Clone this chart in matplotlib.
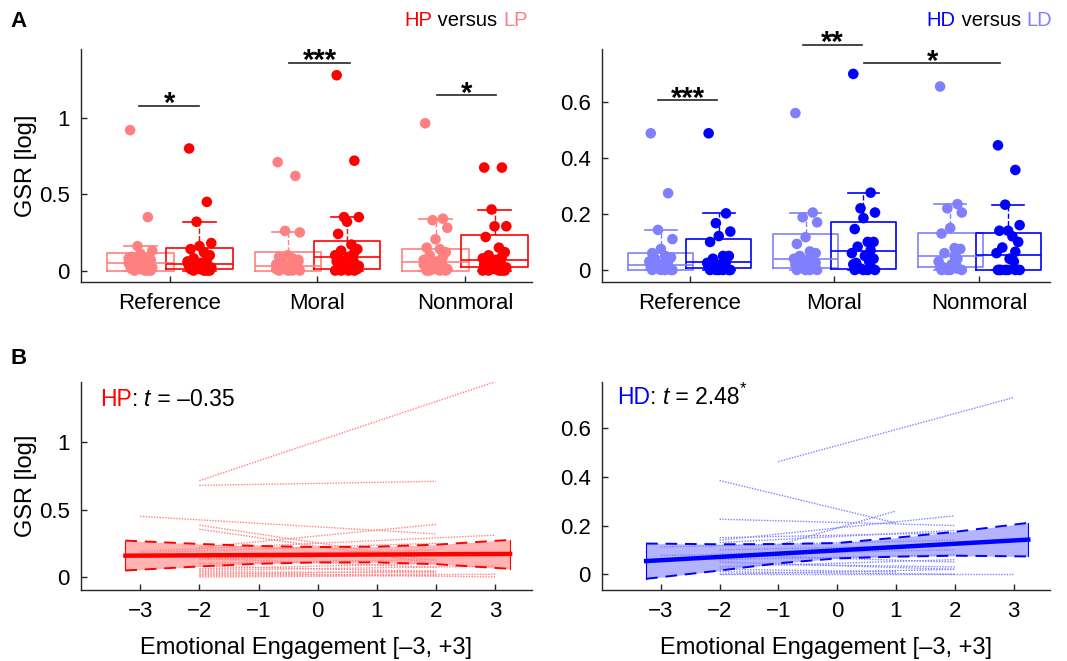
import numpy as np
import matplotlib.pyplot as plt

plt.rcParams['font.family'] = ['Liberation Sans', 'DejaVu Sans']

RED, LRED = '#ff0000', '#ff8080'
BLUE, LBLUE = '#0000ff', '#8080ff'
AXC = '#262626'

conditions = ['Reference', 'Moral', 'Nonmoral']

# box stats per condition: [lower whisker, q1, median, q3, upper whisker]
lp_stats = [[0, 0, 0.05, 0.116, 0.164], [0, 0, 0.03, 0.12, 0.255], [0, 0, 0.057, 0.138, 0.34]]
hp_stats = [[0, 0.007, 0.04, 0.145, 0.32], [0, 0.01, 0.09, 0.195, 0.353], [0, 0.026, 0.072, 0.23, 0.40]]
ld_stats = [[0, 0, 0.018, 0.062, 0.143], [0, 0.006, 0.038, 0.127, 0.205], [0, 0.012, 0.048, 0.131, 0.235]]
hd_stats = [[0, 0.006, 0.027, 0.11, 0.202], [0, 0.005, 0.067, 0.17, 0.276], [0, 0.0, 0.054, 0.133, 0.233]]

# individual GSR values per condition
lp_ref = [0.92, 0.35, 0.16, 0.13, 0.11, 0.09, 0.08, 0.07, 0.06, 0.06, 0.05, 0.05, 0.04, 0.04, 0.03,
          0.03, 0.02, 0.02, 0.01, 0.01, 0.0, 0.0, 0.0, 0.0, 0.08, 0.05]
hp_ref = [0.80, 0.45, 0.32, 0.18, 0.16, 0.14, 0.12, 0.10, 0.08, 0.07, 0.06, 0.05, 0.04, 0.04, 0.03,
          0.03, 0.02, 0.02, 0.01, 0.01, 0.0, 0.0, 0.0, 0.0, 0.05, 0.03]
lp_mor = [0.71, 0.62, 0.26, 0.25, 0.10, 0.09, 0.08, 0.06, 0.05, 0.04, 0.04, 0.03, 0.03, 0.02, 0.02,
          0.01, 0.01, 0.0, 0.0, 0.0, 0.0, 0.07, 0.05, 0.02, 0.01]
hp_mor = [1.28, 0.72, 0.35, 0.35, 0.32, 0.24, 0.17, 0.14, 0.13, 0.12, 0.10, 0.09, 0.08, 0.07, 0.06,
          0.05, 0.04, 0.03, 0.02, 0.02, 0.01, 0.01, 0.0, 0.0, 0.0, 0.0]
lp_non = [0.965, 0.34, 0.33, 0.28, 0.205, 0.15, 0.14, 0.12, 0.10, 0.09, 0.07, 0.06, 0.05, 0.04, 0.03,
          0.03, 0.02, 0.01, 0.01, 0.0, 0.0, 0.0, 0.0, 0.02, 0.04]
hp_non = [0.675, 0.675, 0.40, 0.29, 0.29, 0.22, 0.15, 0.12, 0.10, 0.09, 0.08, 0.07, 0.06, 0.05, 0.04,
          0.03, 0.03, 0.02, 0.01, 0.01, 0.0, 0.0, 0.0, 0.0, 0.0]

ld_ref = [0.488, 0.274, 0.143, 0.11, 0.075, 0.06, 0.05, 0.045, 0.04, 0.03, 0.03, 0.02, 0.02, 0.015,
          0.01, 0.01, 0.005, 0.0, 0.0, 0.0, 0.0, 0.0, 0.025, 0.035]
hd_ref = [0.488, 0.202, 0.167, 0.137, 0.121, 0.10, 0.05, 0.05, 0.04, 0.03, 0.025, 0.02, 0.015, 0.01,
          0.01, 0.005, 0.0, 0.0, 0.0, 0.0, 0.0, 0.0, 0.02]
ld_mor = [0.56, 0.205, 0.188, 0.17, 0.117, 0.093, 0.066, 0.06, 0.05, 0.043, 0.04, 0.035, 0.03, 0.02,
          0.02, 0.01, 0.01, 0.0, 0.0, 0.0, 0.0, 0.025, 0.045]
hd_mor = [0.70, 0.276, 0.22, 0.205, 0.185, 0.146, 0.10, 0.10, 0.083, 0.07, 0.06, 0.05, 0.03, 0.025,
          0.02, 0.01, 0.005, 0.0, 0.0, 0.0, 0.0, 0.04]
ld_non = [0.655, 0.235, 0.22, 0.205, 0.15, 0.13, 0.078, 0.075, 0.06, 0.04, 0.03, 0.02, 0.02, 0.01,
          0.01, 0.005, 0.0, 0.0, 0.0, 0.0, 0.05]
hd_non = [0.445, 0.357, 0.233, 0.16, 0.14, 0.14, 0.12, 0.10, 0.08, 0.065, 0.06, 0.04, 0.03, 0.0, 0.0,
          0.0, 0.0, 0.0, 0.0, 0.0]

# bottom panels: per-participant lines (x0, x1, y0, y1)
hp_lines = [(-2, 3, 0.715, 1.45), (-2, 2, 0.68, 0.71), (-3, 2, 0.45, 0.32), (-2, 2, 0.385, 0.12),
            (-2, 2, 0.355, 0.10), (-2, 2, 0.22, 0.39), (-3, 3, 0.19, 0.31), (-3, 2, 0.18, 0.25),
            (-2, 2, 0.16, 0.20), (-2, 2, 0.13, 0.17), (-2, 2, 0.10, 0.13), (-2, 2, 0.14, 0.07),
            (-2, 2, 0.06, 0.10), (-2, 3, 0.05, 0.08), (-2, 2, 0.04, 0.03), (-2, 2, 0.02, 0.045),
            (-2, 3, 0.01, 0.02), (-2, 2, 0.0, 0.01), (-2, 3, 0.03, 0.0), (-2, 2, 0.08, 0.04)]
hd_lines = [(-1, 3, 0.463, 0.726), (-2, 1, 0.385, 0.21), (-1, 1, 0.12, 0.26), (-2, 2, 0.226, 0.20),
            (-2, 2, 0.14, 0.24), (-2, 2, 0.13, 0.18), (-2, 2, 0.15, 0.17), (-3, 2, 0.112, 0.14),
            (-3, 2, 0.077, 0.10), (-2, 2, 0.10, 0.12), (-2, 2, 0.08, 0.05), (-2, 2, 0.06, 0.08),
            (-2, 2, 0.05, 0.02), (-2, 2, 0.03, 0.06), (-2, 1, 0.02, 0.01), (-2, 2, 0.0, 0.02),
            (-2, 3, 0.0, 0.0), (-2, 2, 0.01, 0.0), (-1, 2, 0.04, 0.03)]

# group fits and confidence bands
fit_x = [-3.25, 3.25]
hp_fit = [0.158, 0.171]
hd_fit = [0.054, 0.142]
ci_x = [-3.25, -2, -1, 0, 1, 2, 3.25]
hp_ci_hi = [0.27, 0.245, 0.23, 0.222, 0.225, 0.24, 0.275]
hp_ci_lo = [0.048, 0.078, 0.098, 0.108, 0.108, 0.095, 0.060]
hd_ci_hi = [0.126, 0.123, 0.124, 0.128, 0.15, 0.174, 0.211]
hd_ci_lo = [-0.019, 0.015, 0.045, 0.065, 0.072, 0.076, 0.073]

JITTER = [-0.07, 0.05, -0.02, 0.08, 0.0, -0.06, 0.03, 0.07, -0.04, 0.05, -0.08, 0.01, 0.04, -0.05]
FS_TICK, FS_LAB = 16, 17


def style(ax):
    for s in ['top', 'right']:
        ax.spines[s].set_visible(False)
    for s in ['left', 'bottom']:
        ax.spines[s].set_color(AXC)
        ax.spines[s].set_linewidth(1.0)
    ax.tick_params(direction='in', length=4, width=1, color=AXC, labelsize=FS_TICK, pad=8)


def boxes(ax, stats, pos, color):
    bs = [dict(whislo=s[0], q1=s[1], med=s[2], q3=s[3], whishi=s[4], fliers=[]) for s in stats]
    ax.bxp(bs, positions=pos, widths=0.45, capwidths=0.22, showfliers=False, manage_ticks=False,
           boxprops=dict(color=color, lw=1.2), medianprops=dict(color=color, lw=1.2),
           whiskerprops=dict(color=color, lw=1.0, ls='--'), capprops=dict(color=color, lw=1.2),
           zorder=3)


def dots(ax, vals, x, color):
    xs = [x + JITTER[i % len(JITTER)] for i in range(len(vals))]
    ax.scatter(xs, vals, s=58, color=color, edgecolors='none', zorder=2)


def sig(ax, x0, x1, y, txt):
    ax.plot([x0, x1], [y, y], color=AXC, lw=1.2, clip_on=False)
    ax.annotate(txt, xy=((x0 + x1) / 2, y), xytext=(0, -9), textcoords='offset points',
                ha='center', va='bottom', fontsize=21, fontweight='bold', annotation_clip=False)


def chain(ax, x, y, parts, fs):
    # parts: (text, color, fontstyle); draws left to right
    t = ax.text(x, y, parts[0][0], color=parts[0][1], fontstyle=parts[0][2], fontsize=fs,
                transform=ax.transAxes, va='bottom', ha='left')
    for txt, c, st in parts[1:]:
        t = ax.annotate(txt, xy=(1, 0), xycoords=t, va='bottom', ha='left', color=c,
                        fontstyle=st, fontsize=fs, annotation_clip=False)
    return t


def chain_right(ax, x, y, parts, fs):
    # right-aligned title built from the last piece backwards, in figure coords
    t = ax.text(x, y, parts[-1][0], color=parts[-1][1], fontsize=fs, va='bottom', ha='right',
                transform=fig.transFigure)
    for txt, c in parts[-2::-1]:
        t = ax.annotate(txt, xy=(0, 0), xycoords=t, va='bottom', ha='right', color=c, fontsize=fs,
                        annotation_clip=False)


fig = plt.figure(figsize=(10.67, 6.61), dpi=100)
axA1 = fig.add_axes([0.0759, 0.5734, 0.4227, 0.3525])
axA2 = fig.add_axes([0.5642, 0.5734, 0.4199, 0.3525])
axB1 = fig.add_axes([0.0759, 0.1074, 0.4227, 0.3147])
axB2 = fig.add_axes([0.5642, 0.1074, 0.4199, 0.3147])

pos = np.arange(1, 4)

# ---- panel A left ----
for x, lo, hi in zip(pos, [lp_ref, lp_mor, lp_non], [hp_ref, hp_mor, hp_non]):
    dots(axA1, lo, x - 0.2, LRED)
    dots(axA1, hi, x + 0.2, RED)
boxes(axA1, lp_stats, pos - 0.2, LRED)
boxes(axA1, hp_stats, pos + 0.2, RED)
axA1.set_xlim(0.397, 3.454)
axA1.set_ylim(-0.075, 1.452)
axA1.set_yticks([0, 0.5, 1])
axA1.set_yticklabels(['0', '0.5', '1'])
axA1.set_xticks(pos)
axA1.set_xticklabels(conditions)
axA1.set_ylabel('GSR [log]', fontsize=FS_LAB)
axA1.yaxis.set_label_coords(-0.098, 0.5)
style(axA1)
sig(axA1, 0.79, 1.2, 1.079, '*')
sig(axA1, 1.81, 2.22, 1.363, '***')
sig(axA1, 2.81, 3.21, 1.15, '*')

# ---- panel A right ----
for x, lo, hi in zip(pos, [ld_ref, ld_mor, ld_non], [hd_ref, hd_mor, hd_non]):
    dots(axA2, lo, x - 0.2, LBLUE)
    dots(axA2, hi, x + 0.2, BLUE)
boxes(axA2, ld_stats, pos - 0.2, LBLUE)
boxes(axA2, hd_stats, pos + 0.2, BLUE)
axA2.set_xlim(0.393, 3.49)
axA2.set_ylim(-0.043, 0.789)
axA2.set_yticks([0, 0.2, 0.4, 0.6])
axA2.set_yticklabels(['0', '0.2', '0.4', '0.6'])
axA2.set_xticks(pos)
axA2.set_xticklabels(conditions)
style(axA2)
sig(axA2, 0.78, 1.19, 0.607, '***')
sig(axA2, 1.78, 2.19, 0.804, '**')
sig(axA2, 2.207, 3.145, 0.738, '*')

# ---- panel B ----
for ax, lines, fit, hi, lo, c, lc, shade, ylim, yt in [
        (axB1, hp_lines, hp_fit, hp_ci_hi, hp_ci_lo, RED, LRED, '#ffb3b3', (-0.097, 1.448), [0, 0.5, 1]),
        (axB2, hd_lines, hd_fit, hd_ci_hi, hd_ci_lo, BLUE, LBLUE, '#b3b3ff', (-0.065, 0.79), [0, 0.2, 0.4, 0.6])]:
    ax.fill_between(ci_x, lo, hi, color=shade, lw=0, zorder=1)
    for x0, x1, y0, y1 in lines:
        ax.plot([x0, x1], [y0, y1], color=lc, lw=1.0, ls=(0, (1, 1)), zorder=2)
    ax.plot(ci_x, hi, color=c, lw=1.4, ls=(0, (6, 4)), zorder=3)
    ax.plot(ci_x, lo, color=c, lw=1.4, ls=(0, (6, 4)), zorder=3)
    ax.plot([ci_x[0]] * 2, [lo[0], hi[0]], color=c, lw=0.8, zorder=3)
    ax.plot([ci_x[-1]] * 2, [lo[-1], hi[-1]], color=c, lw=0.8, zorder=3)
    ax.plot(fit_x, fit, color=c, lw=3.2, zorder=4)
    ax.set_xlim(-4, 3.62)
    ax.set_ylim(*ylim)
    ax.set_xticks(range(-3, 4))
    ax.set_yticks(yt)
    ax.set_yticklabels([f'{v:g}' for v in yt])
    ax.set_xlabel('Emotional Engagement [\u20133, +3]', fontsize=FS_LAB, labelpad=11)
    style(ax)

axB1.set_ylabel('GSR [log]', fontsize=FS_LAB)
axB1.yaxis.set_label_coords(-0.098, 0.5)

chain(axB1, 0.042, 0.86, [('HP', RED, 'normal'), (': ', 'black', 'normal'), ('t', 'black', 'italic'),
                          (' = \u20130.35', 'black', 'normal')], 16.5)
t = chain(axB2, 0.033, 0.87, [('HD', BLUE, 'normal'), (': ', 'black', 'normal'), ('t', 'black', 'italic'),
                              (' = 2.48', 'black', 'normal')], 16.5)
axB2.annotate('*', xy=(1, 0.55), xycoords=t, va='bottom', ha='left', fontsize=12, annotation_clip=False)

# titles and panel letters
chain_right(axA1, 0.4945, 0.955, [('HP', RED), (' versus ', 'black'), ('LP', LRED)], 14.5)
chain_right(axA2, 0.986, 0.955, [('HD', BLUE), (' versus ', 'black'), ('LD', LBLUE)], 14.5)
fig.text(0.017, 0.967, 'A', fontsize=16, fontweight='bold', ha='center', va='center')
fig.text(0.017, 0.457, 'B', fontsize=16, fontweight='bold', ha='center', va='center')

fig.savefig('out.png', dpi=100)
